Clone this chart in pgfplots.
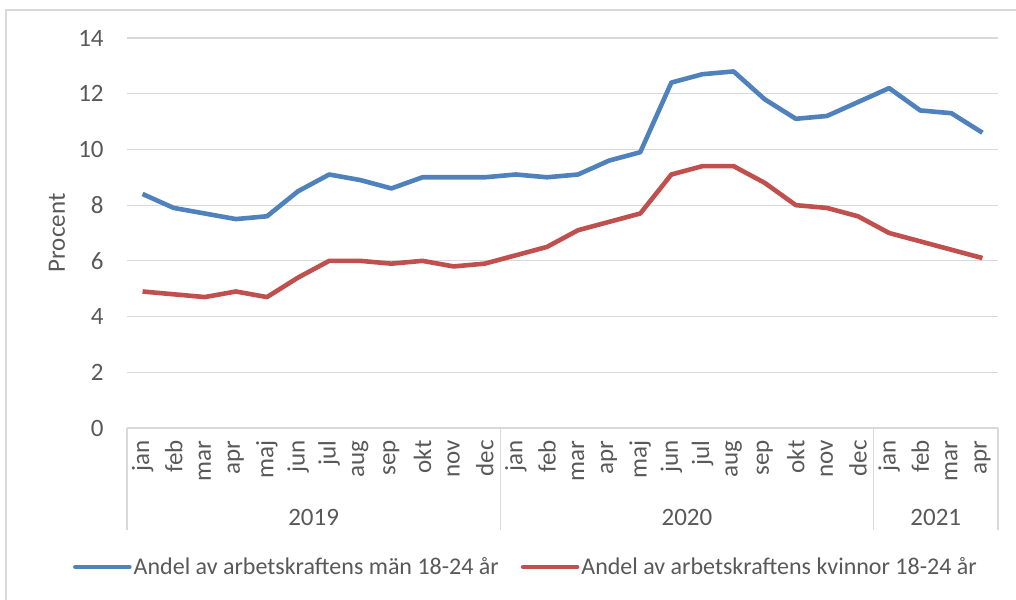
\documentclass[border=0pt]{standalone}
\usepackage{pgfplots}
\pgfplotsset{compat=1.18}
\usepackage{pgfplotstable}
\usepackage{fontspec}
\setmainfont{Carlito}

\definecolor{mblue}{HTML}{4F81BD}
\definecolor{mred}{HTML}{C0504D}
\definecolor{txt}{HTML}{595959}
\definecolor{grd}{HTML}{D9D9D9}

% andel arbetslösa, jan 2019 - apr 2021
\pgfplotstableread{
x     men   women
0.5   8.4   4.9
1.5   7.9   4.8
2.5   7.7   4.7
3.5   7.5   4.9
4.5   7.6   4.7
5.5   8.5   5.4
6.5   9.1   6.0
7.5   8.9   6.0
8.5   8.6   5.9
9.5   9.0   6.0
10.5  9.0   5.8
11.5  9.0   5.9
12.5  9.1   6.2
13.5  9.0   6.5
14.5  9.1   7.1
15.5  9.6   7.4
16.5  9.9   7.7
17.5  12.4  9.1
18.5  12.7  9.4
19.5  12.8  9.4
20.5  11.8  8.8
21.5  11.1  8.0
22.5  11.2  7.9
23.5  11.7  7.6
24.5  12.2  7.0
25.5  11.4  6.7
26.5  11.3  6.4
27.5  10.6  6.1
}\data

\begin{document}
\begin{tikzpicture}
  \useasboundingbox (0,0) rectangle (508pt,299.5pt);
  \draw[grd, line width=0.6pt] (3pt,-2pt) -- (3pt,294.5pt) -- (512pt,294.5pt);
  \begin{axis}[
    at={(63.5pt,85.5pt)}, anchor=south west,
    scale only axis,
    width=435.5pt, height=195pt,
    xmin=0, xmax=28,
    ymin=0, ymax=14,
    ytick={0,2,...,14},
    xtick={0.5,1.5,...,27.5},
    xticklabels={jan,feb,mar,apr,maj,jun,jul,aug,sep,okt,nov,dec,
                 jan,feb,mar,apr,maj,jun,jul,aug,sep,okt,nov,dec,
                 jan,feb,mar,apr},
    major tick length=0pt,
    axis line style={draw=none},
    ymajorgrids,
    grid style={grd, line width=0.6pt},
    /pgf/number format/assume math mode=true,
    tick label style={font=\fontsize{12.5}{14}\selectfont, text=txt},
    xticklabel style={rotate=90, anchor=east, inner sep=0pt},
    xticklabel shift=6pt,
    yticklabel style={anchor=east, inner sep=0pt},
    yticklabel shift=11.5pt,
    ylabel={Procent},
    ylabel style={at={([xshift=-35pt]axis description cs:0,0.5)}, anchor=center,
                  font=\fontsize{12.5}{14}\selectfont, text=txt},
    clip=false,
    legend columns=2,
    legend style={draw=none, at={(0.458,0)}, anchor=center, yshift=-69.5pt,
                  font=\fontsize{12}{14}\selectfont, text=txt,
                  nodes={inner sep=1pt},
                  /tikz/every even column/.append style={column sep=10pt}},
    legend image code/.code={\draw[#1, line cap=round] (0pt,0pt) -- (27pt,0pt);},
  ]
    \addplot[mblue, line width=2.3pt, line join=round] table[x=x, y=men] {\data};
    \addlegendentry{Andel av arbetskraftens män 18-24 år}
    \addplot[mred, line width=2.3pt, line join=round] table[x=x, y=women] {\data};
    \addlegendentry{Andel av arbetskraftens kvinnor 18-24 år}

    \draw[grd, line width=0.6pt] (axis cs:0,0) -- ++(0,-51pt);
    \draw[grd, line width=0.6pt] (axis cs:12,0) -- ++(0,-51pt);
    \draw[grd, line width=0.6pt] (axis cs:24,0) -- ++(0,-51pt);
    \draw[grd, line width=0.6pt] (axis cs:28,0) -- ++(0,-51pt);
    \node[text=txt, font=\fontsize{12.5}{14}\selectfont] at ([yshift=-44.5pt]axis cs:6,0) {2019};
    \node[text=txt, font=\fontsize{12.5}{14}\selectfont] at ([yshift=-44.5pt]axis cs:18,0) {2020};
    \node[text=txt, font=\fontsize{12.5}{14}\selectfont] at ([yshift=-44.5pt]axis cs:26,0) {2021};
  \end{axis}
\end{tikzpicture}
\end{document}
